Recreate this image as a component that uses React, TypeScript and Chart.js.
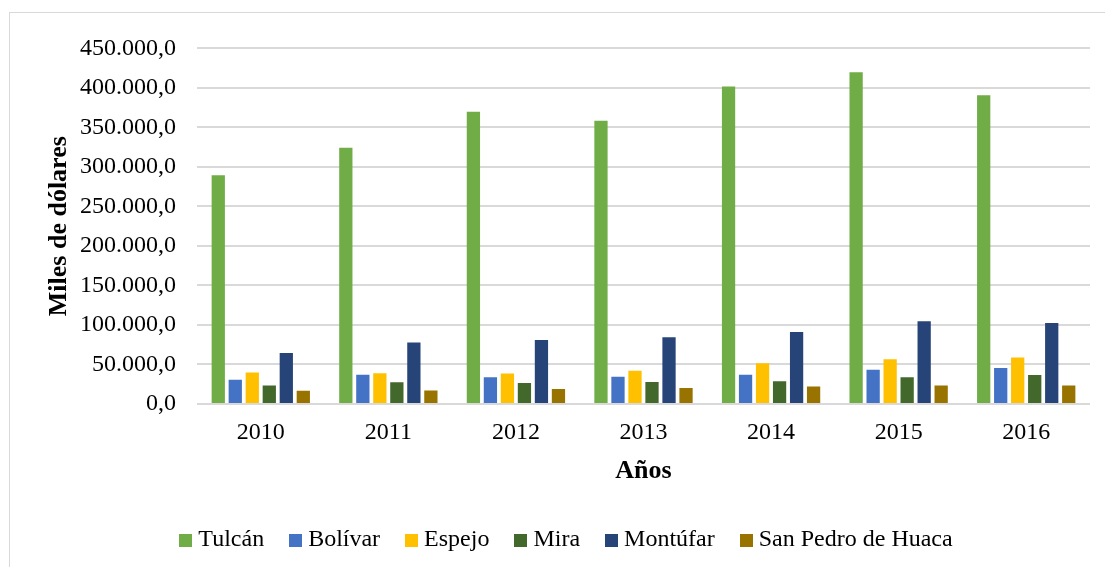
import React, { useEffect, useRef } from "react";
import { Chart, registerables } from "chart.js";

Chart.register(...registerables);

const years = ["2010", "2011", "2012", "2013", "2014", "2015", "2016"];
const tulcan = [289500, 324300, 369800, 358600, 401800, 419700, 390600];
const bolivar = [30800, 37000, 33700, 34500, 37000, 43200, 45700];
const espejo = [39900, 39000, 38600, 42000, 51500, 56500, 59000];
const mira = [23300, 27400, 26600, 27800, 28700, 34000, 36600];
const montufar = [64400, 77700, 81000, 84400, 91000, 104700, 102600];
const sanPedro = [16700, 17000, 19100, 20400, 22000, 23300, 23300];

const seriesNames = ["Tulcán", "Bolívar", "Espejo", "Mira", "Montúfar", "San Pedro de Huaca"];
const seriesColors = ["#70AD47", "#4472C4", "#FFC000", "#43682B", "#264478", "#997300"];
const seriesValues = [tulcan, bolivar, espejo, mira, montufar, sanPedro];

const yMin = 0;
const yMax = 450000;
const yStep = 50000;

const FONT = "'Liberation Serif', 'Times New Roman', serif";

function fmt(v: number): string {
  const s = Math.round(v).toString().replace(/\B(?=(\d{3})+(?!\d))/g, ".");
  return s + ",0";
}

function swatch(color: string): HTMLCanvasElement {
  const c = document.createElement("canvas");
  c.width = 13;
  c.height = 13;
  const ctx = c.getContext("2d");
  if (ctx) {
    ctx.fillStyle = color;
    ctx.fillRect(0, 0, 13, 13);
  }
  return c;
}

const legendShift = {
  id: "legendShift",
  afterLayout(chart: any) {
    const l = chart.legend;
    if (l) {
      l.left += 4;
      l.right += 4;
    }
  },
};

export default function App() {
  const ref = useRef<HTMLCanvasElement | null>(null);

  useEffect(() => {
    if (!ref.current) return;
    const swatches = seriesColors.map(swatch);
    const chart = new Chart(ref.current, {
      type: "bar",
      data: {
        labels: years,
        datasets: seriesNames.map((name, i) => ({
          label: name,
          data: seriesValues[i],
          backgroundColor: seriesColors[i],
          borderWidth: 0,
          categoryPercentage: 0.8,
          barPercentage: 0.78,
        })),
      },
      plugins: [legendShift],
      options: {
        responsive: false,
        animation: false,
        devicePixelRatio: 1,
        layout: { padding: { left: 30, right: 30, top: 29, bottom: 11 } },
        plugins: {
          tooltip: { enabled: false },
          legend: {
            position: "bottom",
            labels: {
              usePointStyle: true,
              boxWidth: 1,
              boxHeight: 13,
              padding: 31,
              color: "#000",
              font: { family: FONT, size: 24 },
              generateLabels: (ch: any) =>
                ch.data.datasets.map((ds: any, i: number) => ({
                  text: ds.label,
                  fillStyle: seriesColors[i],
                  strokeStyle: seriesColors[i],
                  lineWidth: 0,
                  pointStyle: swatches[i],
                  hidden: false,
                  datasetIndex: i,
                  fontColor: "#000",
                })),
            },
          },
        },
        scales: {
          x: {
            grid: { display: false, drawTicks: false },
            border: { display: false },
            ticks: {
              color: "#000",
              padding: 14,
              font: { family: FONT, size: 24 },
              maxRotation: 0,
              autoSkip: false,
            },
            title: {
              display: true,
              text: "Años",
              color: "#000",
              font: { family: FONT, size: 26, weight: "bold" },
              padding: { top: 4, bottom: 10 },
            },
            afterFit: (s: any) => {
              s.height = 93;
            },
          },
          y: {
            min: yMin,
            max: yMax,
            grid: { color: "#d9d9d9", lineWidth: 2, drawTicks: false },
            border: { display: false },
            ticks: {
              stepSize: yStep,
              color: "#000",
              padding: 21,
              font: { family: FONT, size: 24 },
              callback: (v: any) => fmt(Number(v)),
            },
            title: {
              display: true,
              text: "Miles de dólares",
              color: "#000",
              font: { family: FONT, size: 26, weight: "bold" },
              padding: { top: 4, bottom: 4 },
            },
            afterFit: (s: any) => {
              s.width = 157;
            },
          },
        },
      },
    } as any);
    return () => chart.destroy();
  }, []);

  return (
    <div style={{ position: "fixed", left: 0, top: 0, right: 0, bottom: 0, overflow: "hidden", background: "#fff" }}>
      <div
        style={{
          position: "absolute",
          left: 9,
          top: 12,
          width: 1112,
          height: 562,
          border: "1px solid #d9d9d9",
          boxSizing: "border-box",
          background: "#fff",
        }}
      >
        <canvas ref={ref} width={1110} height={560} style={{ display: "block" }} />
      </div>
    </div>
  );
}
